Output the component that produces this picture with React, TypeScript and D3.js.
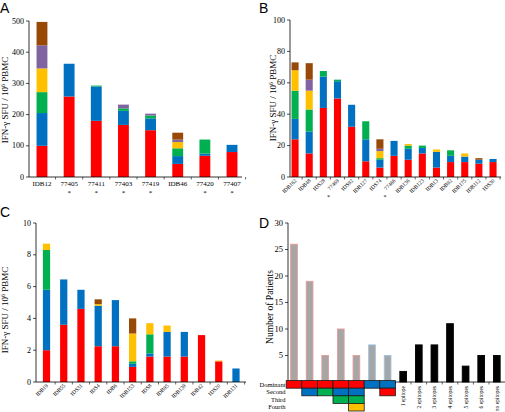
import React from 'react';
import * as d3 from 'd3';

const COLORS: Record<string, string> = {
  red: '#FF0000', blue: '#0070C0', green: '#00B050', yellow: '#FFC000', purple: '#8064A2', brown: '#984807',
};
const KEYS = ['red', 'blue', 'green', 'yellow', 'purple', 'brown'];

// Panel A
const aCats = ['IDB12', '77405', '77411', '77403', '77419', 'IDB46', '77420', '77407'];
const aStars = [false, true, true, true, true, false, true, true];
const aRed = [100, 258, 180, 167, 150, 42, 68, 80];
const aBlue = [105, 105, 110, 45, 38, 25, 7, 23];
const aGreen = [67, 0, 3, 8, 9, 25, 45, 0];
const aYellow = [76, 0, 0, 0, 0, 20, 0, 0];
const aPurple = [74, 0, 0, 12, 6, 8, 0, 0];
const aBrown = [75, 0, 0, 0, 0, 22, 0, 0];
const aTicks = [0, 100, 200, 300, 400, 500];

// Panel B
const bCats = ['IDB162', 'IDB48', 'IDS28', '77469', 'IDS92', 'IDB127', 'IDS74', '77466', 'IDB136', 'IDB123', 'IDB13', 'IDB92', 'IDB175', 'IDB112', 'IDS30'];
const bStars = [false, false, false, true, false, false, false, true, false, false, false, false, false, false, false];
const bRed = [24, 15, 44, 50, 32, 10, 6, 13.5, 11, 15, 6, 9.5, 9.5, 8.5, 9.5];
const bBlue = [13, 14, 20, 11, 14, 14, 5, 9.5, 7, 3.5, 10, 4, 3.5, 2.5, 2];
const bGreen = [18, 14, 3.5, 1, 0, 11.5, 1, 0, 2, 1.5, 0, 3.5, 0, 0, 0];
const bYellow = [13, 12, 0, 0, 0, 0, 4.5, 0, 1, 0, 1.5, 0, 2, 0, 0];
const bPurple = [0, 7, 0, 0, 0, 0, 1.5, 0, 0, 0, 0, 0, 0, 0, 0];
const bBrown = [5, 10.5, 0, 0, 0, 0, 6, 0, 0, 0, 0, 0, 0, 1, 0];
const bTicks = [0, 20, 40, 60, 80, 100];

// Panel C
const cCats = ['IDB19', 'IDB55', 'IDS31', 'IDS4', 'IDB6', 'IDB153', 'IDS8', 'IDB95', 'IDB139', 'IDB42', 'IDS20', 'IDB131'];
const cRed = [2, 3.6, 4.6, 2.25, 2.25, 0.95, 1.6, 1.6, 1.6, 2.95, 1.3, 0];
const cBlue = [3.8, 2.85, 1.2, 2.55, 2.9, 0.2, 0.2, 1.55, 1.55, 0, 0, 0.85];
const cGreen = [2.5, 0, 0, 0, 0, 0.15, 1.2, 0, 0, 0, 0, 0];
const cYellow = [0.4, 0, 0, 0.1, 0, 1.75, 0.7, 0.4, 0, 0, 0.05, 0];
const cPurple = [0, 0, 0, 0, 0, 0, 0, 0, 0, 0, 0, 0];
const cBrown = [0, 0, 0, 0.3, 0, 0.95, 0, 0, 0, 0, 0, 0];
const cTicks = [0, 2, 4, 6, 8, 10];

// Panel D
const dCats = ['p1', 'p2', 'p3', 'p4', 'p5', 'p6', 'p7', '1 epitope', '2 epitopes', '3 epitopes', '4 epitopes', '5 epitopes', '6 epitopes', 'no epitopes'];
const dValues = [26, 19, 5, 10, 5, 7, 5, 2, 7, 7, 11, 3, 5, 5];
const dKind = ['pr', 'pr', 'pr', 'pr', 'pr', 'pb', 'pb', 'k', 'k', 'k', 'k', 'k', 'k', 'k'];
const dTicks = [5, 10, 15, 20, 25, 30];
const dRowLabels = ['Dominant', 'Second', 'Third', 'Fourth'];
const dGrid = [
  ['red', 'red', 'red', 'red', 'red', 'blue', 'blue'],
  ['', 'blue', 'green', 'blue', 'blue', '', 'red'],
  ['', '', '', 'green', 'green', '', ''],
  ['', '', '', '', 'yellow', '', ''],
];

const FONT = 'Liberation Serif, Times New Roman, serif';
const SANS = 'Liberation Sans, Arial, sans-serif';

type PanelProps = {
  cats: string[];
  series: Record<string, number[]>;
  yMax: number;
  ticks: number[];
  yPix: [number, number];
  xPix: [number, number];
  pad: number;
  axisX: number;
  axisEnd: number;
  rotated: boolean;
  stars?: boolean[];
  title: string;
  titleX: number;
  titleY: number;
};

function StackPanel(p: PanelProps) {
  const x = d3.scaleBand<string>().domain(p.cats).range(p.xPix).paddingInner(p.pad).paddingOuter(p.pad / 2);
  const y = d3.scaleLinear().domain([0, p.yMax]).range(p.yPix);
  const rows = p.cats.map((c, i) => {
    const r: any = { cat: c };
    KEYS.forEach(k => (r[k] = p.series[k][i]));
    return r;
  });
  const stacked = d3.stack<any>().keys(KEYS)(rows);
  const y0 = y(0);
  const step = x.step();
  return (
    <g>
      {stacked.map(layer => (
        <g key={layer.key} fill={COLORS[layer.key]}>
          {layer.map((d, i) =>
            d[1] - d[0] > 0 ? (
              <rect key={i} x={x(p.cats[i])} width={x.bandwidth()} y={y(d[1])} height={y(d[0]) - y(d[1])} />
            ) : null
          )}
        </g>
      ))}
      <line x1={p.axisX} x2={p.axisX} y1={y0} y2={y(p.yMax)} stroke="#000" strokeWidth={0.8} />
      <line x1={p.axisX} x2={p.axisEnd} y1={y0} y2={y0} stroke="#000" strokeWidth={0.8} />
      {p.ticks.map(t => (
        <g key={t}>
          <line x1={p.axisX - 3} x2={p.axisX} y1={y(t)} y2={y(t)} stroke="#000" strokeWidth={0.7} />
          <text x={p.axisX - 5} y={y(t)} dy="0.33em" textAnchor="end" fontSize={8} fontFamily={FONT}>{t}</text>
        </g>
      ))}
      {p.cats.map((c, i) => (
        <line key={'t' + i} x1={p.xPix[0] + step * (i + 1)} x2={p.xPix[0] + step * (i + 1)} y1={y0} y2={y0 + 2.5} stroke="#000" strokeWidth={0.6} />
      ))}
      {p.cats.map((c, i) => {
        const cx = (x(c) as number) + x.bandwidth() / 2;
        if (!p.rotated) {
          return (
            <g key={'l' + i}>
              <text x={cx} y={186} textAnchor="middle" fontSize={7} fontFamily={FONT}>{c}</text>
              {p.stars && p.stars[i] ? <text x={cx} y={195} textAnchor="middle" fontSize={7} fontFamily={FONT}>*</text> : null}
            </g>
          );
        }
        return (
          <g key={'l' + i}>
            <text transform={`translate(${cx + 2},${y0 + 4}) rotate(-45)`} textAnchor="end" fontSize={5.5} fontFamily={FONT}>{c}</text>
            {p.stars && p.stars[i] ? <text x={cx - 9} y={y0 + 22} textAnchor="middle" fontSize={6} fontFamily={FONT}>*</text> : null}
          </g>
        );
      })}
      <text transform={`translate(${p.titleX},${p.titleY}) rotate(-90)`} textAnchor="middle" fontSize={9} fontFamily={FONT}>
        IFN-γ SFU / 10<tspan fontSize={6} dy={-3}>6</tspan><tspan dy={3}> PBMC</tspan>
      </text>
    </g>
  );
}

function PanelD() {
  const x = d3.scaleBand<string>().domain(dCats).range([286.2, 504.6]).paddingInner(0.57).paddingOuter(0.285);
  const y = d3.scaleLinear().domain([0, 30]).range([382, 223]);
  const axisX = 288;
  const step = x.step();
  const stroke = (k: string) => (k === 'pr' ? '#E89A9A' : k === 'pb' ? '#9DC3E6' : '#000');
  const fill = (k: string) => (k === 'k' ? '#000' : '#A6A6A6');
  const rowTop = 380.6;
  const rowH = 7.6;
  return (
    <g>
      {dCats.map((c, i) => (
        <rect key={c} x={x(c)} width={x.bandwidth()} y={y(dValues[i])} height={y(0) - y(dValues[i])}
          fill={fill(dKind[i])} stroke={stroke(dKind[i])} strokeWidth={0.9} />
      ))}
      <line x1={axisX} x2={axisX} y1={y(0)} y2={y(30)} stroke="#000" strokeWidth={0.8} />
      <line x1={axisX} x2={505} y1={y(0)} y2={y(0)} stroke="#000" strokeWidth={0.8} />
      {dTicks.map(t => (
        <g key={t}>
          <line x1={axisX - 3} x2={axisX} y1={y(t)} y2={y(t)} stroke="#000" strokeWidth={0.7} />
          <text x={axisX - 5} y={y(t)} dy="0.33em" textAnchor="end" fontSize={8.5} fontFamily={FONT}>{t}</text>
        </g>
      ))}
      {dCats.slice(7).map((c, i) => {
        const cx = (x(c) as number) + x.bandwidth() / 2;
        return (
          <g key={c}>
            <line x1={(x(c) as number) - (step - x.bandwidth()) / 2} x2={(x(c) as number) - (step - x.bandwidth()) / 2} y1={382} y2={384.5} stroke="#000" strokeWidth={0.6} />
            <text transform={`translate(${cx},${386}) rotate(-90)`} textAnchor="end" dy="0.35em" fontSize={5.5} fontFamily={FONT}>{c}</text>
          </g>
        );
      })}
      {dGrid.map((row, r) => (
        <g key={r}>
          {row.map((col, ci) =>
            col ? (
              <rect key={ci} x={286.2 + ci * step} y={rowTop + r * rowH} width={step} height={rowH}
                fill={COLORS[col]} stroke="#1a1a1a" strokeWidth={0.8} />
            ) : null
          )}
          <text x={285.5} y={rowTop + r * rowH + rowH / 2} dy="0.35em" textAnchor="end" fontSize={6.5} fontFamily={FONT}>{dRowLabels[r]}</text>
        </g>
      ))}
      <text transform="translate(273,307) rotate(-90)" textAnchor="middle" fontSize={9.5} fontFamily={FONT}>Number of Patients</text>
    </g>
  );
}

export default function App() {
  return (
    <svg width={505} height={412} style={{ position: 'absolute', left: 0, top: 0, background: '#fff' }}>
      <rect width={505} height={412} fill="#fff" />
      <text x={0} y={13} fontSize={14} fontFamily={SANS}>A</text>
      <text x={259} y={13} fontSize={14} fontFamily={SANS}>B</text>
      <text x={0} y={217} fontSize={14} fontFamily={SANS}>C</text>
      <text x={259} y={228} fontSize={14} fontFamily={SANS}>D</text>
      <StackPanel cats={aCats} series={{ red: aRed, blue: aBlue, green: aGreen, yellow: aYellow, purple: aPurple, brown: aBrown }}
        yMax={500} ticks={aTicks} yPix={[177, 21]} xPix={[28.4, 245.6]} pad={0.6} axisX={29} axisEnd={242}
        rotated={false} stars={aStars} title="" titleX={8} titleY={100} />
      <StackPanel cats={bCats} series={{ red: bRed, blue: bBlue, green: bGreen, yellow: bYellow, purple: bPurple, brown: bBrown }}
        yMax={100} ticks={bTicks} yPix={[177, 20]} xPix={[288, 500.1]} pad={0.5} axisX={290} axisEnd={501}
        rotated={true} stars={bStars} title="" titleX={276} titleY={98} />
      <StackPanel cats={cCats} series={{ red: cRed, blue: cBlue, green: cGreen, yellow: cYellow, purple: cPurple, brown: cBrown }}
        yMax={10} ticks={cTicks} yPix={[382, 223]} xPix={[37.9, 244.6]} pad={0.58} axisX={36} axisEnd={246}
        rotated={true} title="" titleX={8} titleY={310} />
      <PanelD />
    </svg>
  );
}
